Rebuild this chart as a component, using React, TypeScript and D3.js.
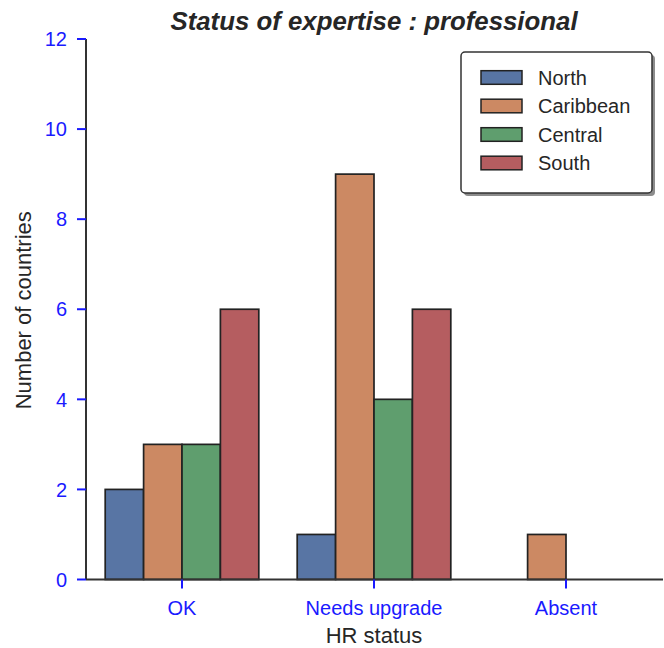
import React from "react";
import * as d3 from "d3";

const categories = ["OK", "Needs upgrade", "Absent"];
const regions = ["North", "Caribbean", "Central", "South"];
const northValues = [2, 1, 0];
const caribbeanValues = [3, 9, 1];
const centralValues = [3, 4, 0];
const southValues = [6, 6, 0];
const yTicks = [0, 2, 4, 6, 8, 10, 12];
const colors = ["#5875a4", "#cc8963", "#5f9e6e", "#b55d60"];

const seriesValues = [northValues, caribbeanValues, centralValues, southValues];

export default function App() {
  const W = 664;
  const H = 648;
  const left = 86;
  const right = 662;
  const top = 39;
  const bottom = 579.5;
  const font = "'Liberation Sans', Arial, sans-serif";

  const x = d3.scaleBand<string>().domain(categories).range([left, right]).padding(0);
  const groupWidth = x.bandwidth() * 0.8;
  const inner = d3
    .scaleBand<string>()
    .domain(regions)
    .range([-groupWidth / 2, groupWidth / 2])
    .padding(0);
  const y = d3.scaleLinear().domain([0, 12]).range([bottom, top]);

  const axisColor = "#333333";
  const tickColor = "#1a1aff";

  const legX = 461;
  const legY = 52;
  const legW = 191;
  const legH = 141;

  return (
    <svg
      width={W}
      height={H}
      style={{ position: "absolute", left: 0, top: 0, background: "#fff" }}
      fontFamily={font}
    >
      {/* title */}
      <text
        x={(left + right) / 2}
        y={29.5}
        textAnchor="middle"
        fontSize={25.8}
        fontWeight="bold"
        fontStyle="italic"
        fill="#262626"
      >
        Status of expertise : professional
      </text>

      {/* bars */}
      {regions.map((r, si) =>
        categories.map((c, ci) => {
          const v = seriesValues[si][ci];
          if (v === 0) return null;
          const bx = (x(c) as number) + x.bandwidth() / 2 + (inner(r) as number);
          return (
            <rect
              key={r + c}
              x={bx}
              y={y(v)}
              width={inner.bandwidth()}
              height={y(0) - y(v)}
              fill={colors[si]}
              stroke="#222222"
              strokeWidth={1.7}
            />
          );
        })
      )}

      {/* y axis */}
      <line x1={left} x2={left} y1={top} y2={bottom} stroke={axisColor} strokeWidth={2} />
      {yTicks.map((t) => (
        <g key={t}>
          <line x1={left - 9} x2={left} y1={y(t)} y2={y(t)} stroke={tickColor} strokeWidth={2} />
          <text
            x={left - 19}
            y={y(t)}
            dy="0.36em"
            textAnchor="end"
            fontSize={20}
            fill={tickColor}
          >
            {t}
          </text>
        </g>
      ))}

      {/* x axis */}
      <line x1={left} x2={right + 1} y1={bottom} y2={bottom} stroke={axisColor} strokeWidth={2} />
      {categories.map((c) => {
        const cx = (x(c) as number) + x.bandwidth() / 2;
        return (
          <g key={c}>
            <line x1={cx} x2={cx} y1={bottom} y2={bottom + 9} stroke={tickColor} strokeWidth={2} />
            <text x={cx} y={615} textAnchor="middle" fontSize={20} fill={tickColor}>
              {c}
            </text>
          </g>
        );
      })}

      {/* axis labels */}
      <text x={(left + right) / 2} y={643} textAnchor="middle" fontSize={22} fill="#262626">
        HR status
      </text>
      <text
        transform={`translate(31, ${(top + bottom) / 2 + 1}) rotate(-90)`}
        textAnchor="middle"
        fontSize={22}
        fill="#262626"
      >
        Number of countries
      </text>

      {/* legend */}
      <rect x={legX + 3} y={legY + 3} width={legW} height={legH} rx={4} fill="#8c8c8c" />
      <rect
        x={legX}
        y={legY}
        width={legW}
        height={legH}
        rx={4}
        fill="#ffffff"
        stroke="#333333"
        strokeWidth={1.5}
      />
      {regions.map((r, i) => {
        const cy = 77.5 + i * 28.5;
        return (
          <g key={r}>
            <rect
              x={481}
              y={cy - 6.8}
              width={41}
              height={13.6}
              fill={colors[i]}
              stroke="#222222"
              strokeWidth={1.5}
            />
            <text x={538} y={cy} dy="0.36em" fontSize={20} fill="#262626">
              {r}
            </text>
          </g>
        );
      })}
    </svg>
  );
}
